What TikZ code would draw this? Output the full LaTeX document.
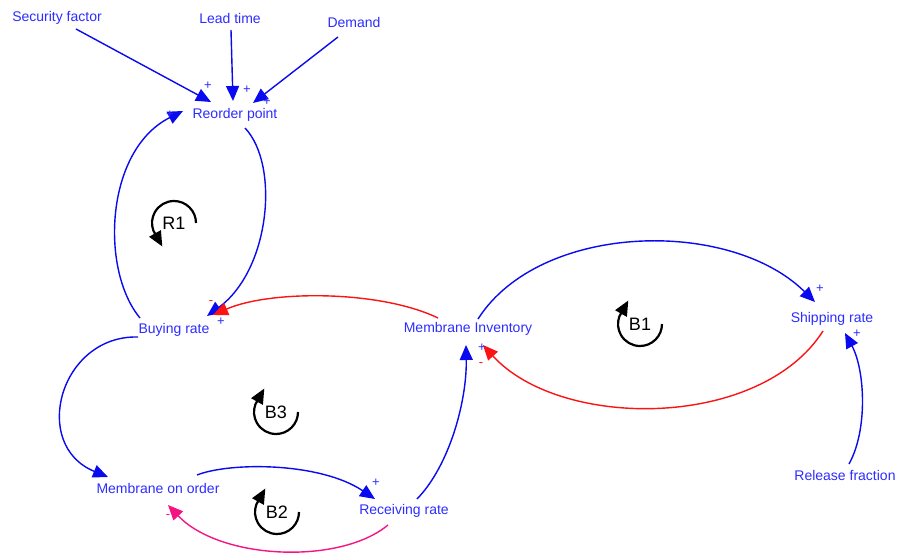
\documentclass[tikz,border=0pt]{standalone}
\usepackage{fontspec}
\setmainfont{Liberation Sans}
\usetikzlibrary{arrows.meta,calc}
\definecolor{tb}{RGB}{45,45,255}
\definecolor{lb}{RGB}{10,10,240}
\definecolor{lr}{RGB}{250,20,20}
\definecolor{lp}{RGB}{245,20,130}
\begin{document}
\begin{tikzpicture}[x=1pt,y=-1pt,
  var/.style={text=tb, font=\fontsize{14}{16}\selectfont, inner sep=0pt},
  lnk/.style={lb, line width=1.4pt, -{Triangle[length=15pt,width=13pt]}},
  rlnk/.style={lnk, draw=lr},
  plnk/.style={lnk, draw=lp},
  pol/.style={font=\fontsize{13}{14}\selectfont, inner sep=0pt, text=tb},
  loopl/.style={font=\fontsize{18}{20}\selectfont, inner sep=0pt},
  loopa/.style={black, line width=2.2pt, -{Triangle[length=15pt,width=13pt]}}]
\useasboundingbox (0,0) rectangle (898,556);
\fill[white] (0,0) rectangle (898,556);
% variables
\node[var] (sf) at (57,18) {Security factor};
\node[var] (lt) at (230,18) {Lead time};
\node[var] (dm) at (354,22) {Demand};
\node[var] (rp) at (235,115) {Reorder point};
\node[var] (br) at (174,330) {Buying rate};
\node[var] (mi) at (468,329) {Membrane Inventory};
\node[var] (sr) at (832,319) {Shipping rate};
\node[var] (mo) at (158,488) {Membrane on order};
\node[var] (rr) at (404,511) {Receiving rate};
\node[var] (rf) at (845,475) {Release fraction};
% links
\draw[lnk] ($(sf)+(19,11)$) -- ($(rp)+(-24,-13)$);
\draw[lnk] ($(lt)+(1,12)$) -- ($(rp)+(-2,-14)$);
\draw[lnk] ($(dm)+(-16,15)$) -- ($(rp)+(18,-12)$);
\draw[lnk] ($(br)+(-34,-12)$) .. controls (100,270) and (105,150) .. ($(rp)+(-52,-4)$);
\draw[lnk] ($(rp)+(10,13)$) .. controls (280,165) and (270,270) .. ($(br)+(33,-14)$);
\draw[rlnk] ($(mi)+(-30,-11)$) .. controls (380,290) and (270,290) .. ($(br)+(39,-15)$);
\draw[lnk] ($(br)+(-36,7)$) .. controls (60,335) and (30,445) .. ($(mo)+(-50,-11)$);
\draw[lnk] ($(mo)+(39,-13)$) .. controls (230,462) and (320,462) .. ($(rr)+(-29,-12)$);
\draw[plnk] ($(rr)+(-16,14)$) .. controls (340,565) and (220,560) .. ($(mo)+(10,17)$);
\draw[lnk] ($(rr)+(13,-12)$) .. controls (450,465) and (467,400) .. ($(mi)+(-2,16)$);
\draw[lnk] ($(mi)+(10,-10)$) .. controls (540,222) and (730,218) .. ($(sr)+(-17,-17)$);
\draw[rlnk] ($(sr)+(-9,12)$) .. controls (760,430) and (560,430) .. ($(mi)+(15,16)$);
\draw[lnk] ($(rf)+(4,-11)$) .. controls (868,430) and (865,370) .. ($(sr)+(13,14)$);
% polarities
\node[pol] (p1) at (208,86) {+};
\node[pol] (p2) at (247,90) {+};
\node[pol] (p3) at (267,102) {+};
\node[pol] (p4) at (170,115) {+};
\node[pol, text=lr] (p5) at (211,303) {-};
\node[pol] (p6) at (221,322) {+};
\node[pol] (p7) at (376,483) {+};
\node[pol, text=lp] (p8) at (168,517) {-};
\node[pol] (p9) at (482,348) {+};
\node[pol, text=lr] (p10) at (481,365) {-};
\node[pol] (p11) at (820,289) {+};
\node[pol] (p12) at (857,334) {+};
% loops
\node[loopl] (r1) at (174,223) {R1};
\draw[loopa] (196,223) arc[start angle=0, end angle=-200, radius=22] -- ++(9,16);
\node[loopl] (b1) at (640,324) {B1};
\draw[loopa] (662,324) arc[start angle=0, end angle=200, radius=22] -- ++(9,-16);
\node[loopl] (b3) at (276,412) {B3};
\draw[loopa] (298,412) arc[start angle=0, end angle=200, radius=22] -- ++(9,-16);
\node[loopl] (b2) at (277,512) {B2};
\draw[loopa] (299,512) arc[start angle=0, end angle=200, radius=22] -- ++(9,-16);
\end{tikzpicture}
\end{document}
